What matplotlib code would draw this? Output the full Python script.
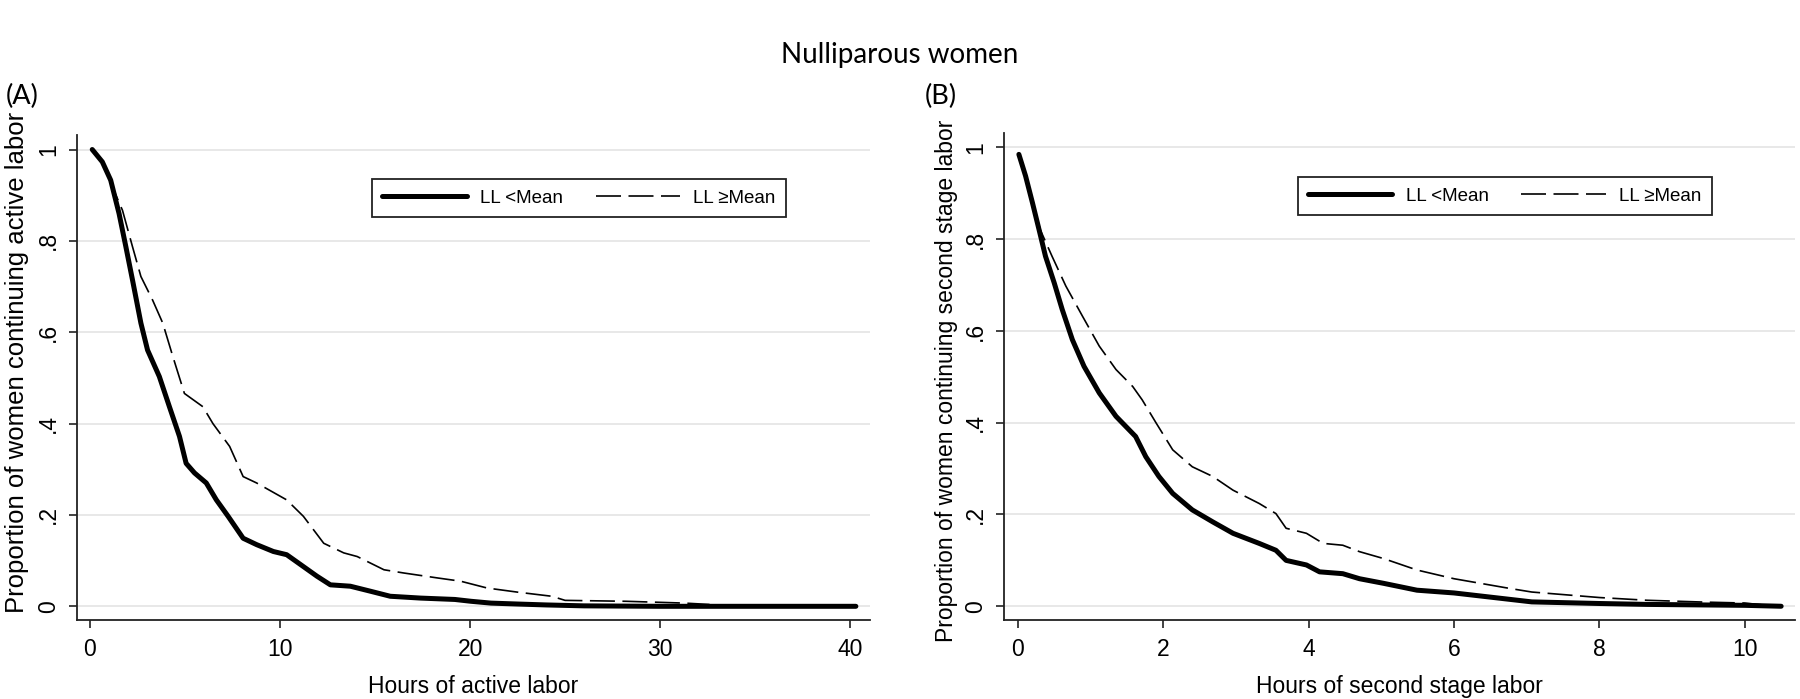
import matplotlib
matplotlib.use('Agg')
import matplotlib.pyplot as plt

# 使用 Arial 同度量字体
plt.rcParams['font.family'] = ['Liberation Sans', 'DejaVu Sans']

# ---- (A) 活跃期 ----
hours_a_low = [0.12, 0.65, 1.09, 1.53, 1.89, 2.24, 2.68, 3.03, 3.65, 4.18, 4.71, 5.06, 5.5, 6.12,
               6.65, 7.27, 8.06, 8.77, 9.65, 10.35, 11.23, 11.94, 12.65, 13.7, 14.76, 15.8, 17.4,
               19.2, 20.05, 21.1, 22.5, 24.0, 26.0, 30.0, 40.3]
surv_a_low = [1.0, 0.973, 0.933, 0.86, 0.787, 0.714, 0.62, 0.561, 0.503, 0.437, 0.372, 0.313, 0.292,
              0.27, 0.233, 0.197, 0.149, 0.135, 0.12, 0.113, 0.087, 0.066, 0.047, 0.044, 0.033,
              0.022, 0.018, 0.015, 0.011, 0.007, 0.005, 0.003, 0.001, 0.0, 0.0]

hours_a_high = [0.12, 0.65, 1.18, 1.71, 2.24, 2.68, 3.3, 3.83, 4.36, 4.97, 5.94, 6.47, 7.35, 8.06,
                8.77, 10.35, 11.23, 12.3, 13.35, 14.06, 15.47, 16.5, 18.3, 19.5, 20.9, 22.5, 24.3,
                25.0, 28.2, 31.3, 32.6]
surv_a_high = [1.0, 0.975, 0.918, 0.867, 0.787, 0.722, 0.67, 0.62, 0.547, 0.466, 0.437, 0.40, 0.35,
               0.284, 0.27, 0.233, 0.197, 0.138, 0.117, 0.109, 0.08, 0.073, 0.062, 0.055, 0.04,
               0.031, 0.022, 0.013, 0.011, 0.007, 0.004]

# ---- (B) 第二产程 ----
hours_b_low = [0.014, 0.106, 0.2, 0.29, 0.38, 0.5, 0.61, 0.75, 0.91, 1.12, 1.35, 1.62, 1.76, 1.94,
               2.13, 2.4, 2.68, 2.96, 3.32, 3.55, 3.69, 3.97, 4.15, 4.47, 4.7, 5.03, 5.49, 6.0,
               7.07, 8.0, 8.66, 10.0, 10.5]
surv_b_low = [0.985, 0.938, 0.88, 0.822, 0.763, 0.705, 0.647, 0.581, 0.523, 0.465, 0.414, 0.37,
              0.326, 0.283, 0.246, 0.21, 0.184, 0.159, 0.137, 0.122, 0.1, 0.09, 0.075, 0.071, 0.06,
              0.05, 0.035, 0.029, 0.0095, 0.006, 0.004, 0.002, 0.0]

hours_b_high = [0.014, 0.106, 0.2, 0.31, 0.47, 0.66, 0.89, 1.12, 1.35, 1.58, 1.71, 1.9, 2.13, 2.4,
                2.68, 2.96, 3.32, 3.55, 3.69, 3.97, 4.2, 4.47, 4.7, 5.03, 5.49, 6.0, 6.76, 7.07,
                8.0, 8.66, 9.45, 10.0, 10.3]
surv_b_high = [0.985, 0.938, 0.88, 0.82, 0.763, 0.698, 0.632, 0.567, 0.516, 0.479, 0.45, 0.40, 0.341,
               0.304, 0.283, 0.253, 0.224, 0.202, 0.17, 0.159, 0.137, 0.133, 0.119, 0.104, 0.079,
               0.06, 0.039, 0.031, 0.019, 0.013, 0.009, 0.007, 0.002]

y_ticks = [0, 0.2, 0.4, 0.6, 0.8, 1.0]
y_tick_labels = ['0', '.2', '.4', '.6', '.8', '1']
legend_labels = ['LL <Mean', 'LL \u2265Mean']

fig = plt.figure(figsize=(18, 6.99), dpi=100)
fig.patch.set_facecolor('white')

panels = [
    # 坐标区位置, 数据, x轴, 标题, y标题字号/位置, 面板标记位置
    ([0.0428, 0.113, 0.4406, 0.694], hours_a_low, surv_a_low, hours_a_high, surv_a_high,
     [0, 10, 20, 30, 40], (-0.68, 41.05), 'Hours of active labor',
     'Proportion of women continuing active labor', 18.5, (-0.06, 0.53), '(A)', 0.003),
    ([0.5578, 0.113, 0.4394, 0.697], hours_b_low, surv_b_low, hours_b_high, surv_b_high,
     [0, 2, 4, 6, 8, 10], (-0.19, 10.69), 'Hours of second stage labor',
     'Proportion of women continuing second stage labor', 16.5, (-0.058, 0.49), '(B)', 0.514),
]

for rect, xl, yl, xh, yh, xt, xlim, xlabel, ylabel, ysize, ypos, tag, tagx in panels:
    ax = fig.add_axes(rect)
    ax.plot(xl, yl, color='black', lw=3.6, solid_capstyle='round', solid_joinstyle='round',
            label=legend_labels[0], zorder=3)
    ax.plot(xh, yh, color='black', lw=1.2, dashes=(15, 4.5), label=legend_labels[1], zorder=4)

    ax.set_xlim(*xlim)
    ax.set_ylim(-0.03, 1.032)
    ax.set_xticks(xt)
    ax.set_yticks(y_ticks)
    ax.set_yticklabels(y_tick_labels, rotation=90, va='center')
    ax.tick_params(axis='both', direction='out', length=6, width=1.2, labelsize=16.5,
                   color='#222222')
    ax.tick_params(axis='x', pad=7)
    ax.tick_params(axis='y', pad=6)

    # 水平网格线
    ax.grid(axis='y', color='#e6e6e6', lw=1.3)
    ax.set_axisbelow(True)
    for s in ['top', 'right']:
        ax.spines[s].set_visible(False)
    for s in ['left', 'bottom']:
        ax.spines[s].set_linewidth(1.3)
        ax.spines[s].set_color('#222222')

    ax.set_xlabel(xlabel, fontsize=16.5)
    ax.xaxis.set_label_coords(0.5, -0.113)
    ax.set_ylabel(ylabel, fontsize=ysize)
    ax.yaxis.set_label_coords(*ypos)

    leg = ax.legend(ncol=2, loc='center', bbox_to_anchor=(0.633, 0.87), fontsize=13.5,
                    handlelength=4.5, handletextpad=0.7, columnspacing=1.75,
                    borderpad=0.55, fancybox=False, framealpha=1, edgecolor='#222222')
    leg.get_frame().set_linewidth(1.3)

    fig.text(tagx, 0.862, tag, fontsize=19.5, family=['Lato', 'DejaVu Sans'],
             ha='left', va='center')

fig.text(0.5, 0.921, 'Nulliparous women', fontsize=20, family=['Lato', 'DejaVu Sans'],
         ha='center', va='center')

plt.savefig('out.png', dpi=100)
plt.close('all')
